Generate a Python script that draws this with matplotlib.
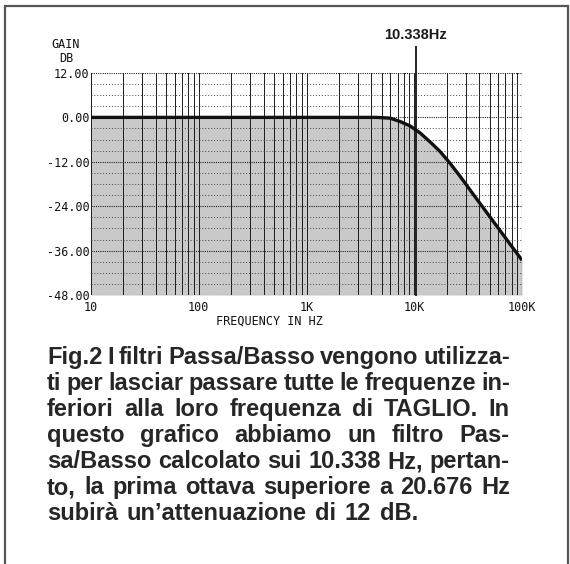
import matplotlib
matplotlib.use('Agg')
import matplotlib.pyplot as plt
from matplotlib.patches import Rectangle

# low-pass response
freq_hz = [10, 100, 1000, 4500, 5960, 7380, 9140, 11330, 14000, 17340,
           21480, 26600, 35100, 50470, 69500, 100000]
gain_db = [0.0, 0.0, 0.0, 0.0, -0.2, -1.1, -2.3, -4.2, -6.6, -9.2,
           -12.4, -15.9, -20.7, -26.9, -32.4, -38.6]

x_ticks = [10, 100, 1000, 10000, 100000]
x_tick_labels = ['10', '100', '1K', '10K', '100K']
y_ticks = [12, 0, -12, -24, -36, -48]
y_tick_labels = ['12.00', '0.00', '-12.00', '-24.00', '-36.00', '-48.00']

cutoff_hz = 10338
cutoff_label = '10.338Hz'

caption_lines = [
    'Fig.2 I filtri Passa/Basso vengono utilizza-',
    'ti per lasciar passare tutte le frequenze in-',
    'feriori alla loro frequenza di TAGLIO. In',
    'questo grafico abbiamo un filtro Pas-',
    'sa/Basso calcolato sui 10.338 Hz, pertan-',
    'to, la prima ottava superiore a 20.676 Hz',
    'subirà un\u2019attenuazione di 12 dB.',
]

W, H = 570, 564
MONO = 'DejaVu Sans Mono'


def fx(px):
    return px / W


def fy(py):
    return 1 - py / H


fig = plt.figure(figsize=(W / 100, H / 100), dpi=100)
fig.patch.set_facecolor('white')

# outer frame
fig.patches.append(Rectangle((fx(5), -0.05), fx(568) - fx(5), fy(6) + 0.05,
                             transform=fig.transFigure, fill=False,
                             edgecolor='#555555', lw=1.6))

ax = fig.add_axes([fx(91), fy(295), fx(522) - fx(91), fy(73) - fy(295)])
ax.set_xscale('log')
ax.set_xlim(10, 100000)
ax.set_ylim(-48, 12)
for s in ax.spines.values():
    s.set_visible(False)

ax.fill_between(freq_hz, gain_db, -48, color='#c9c9c9', lw=0, zorder=1)

# log grid, one line per minor step
for d in [10, 100, 1000, 10000]:
    for m in range(1, 10):
        ax.axvline(d * m, color='#1a1a1a', lw=0.7, zorder=2)
ax.axvline(100000, color='#1a1a1a', lw=0.8, zorder=2)

for y in range(-48, 13, 3):
    if y % 12 == 0:
        ax.axhline(y, color='#222222', lw=0.8, ls=(0, (1, 1)), zorder=2)
    else:
        ax.axhline(y, color='#444444', lw=0.7, ls=(0, (1, 2)), zorder=2)

ax.plot(freq_hz, gain_db, color='#111111', lw=2.4, zorder=4,
        solid_capstyle='butt', solid_joinstyle='round')

# cutoff marker
ax.plot([cutoff_hz, cutoff_hz], [-48, 19], color='#222222', lw=1.4,
        clip_on=False, zorder=3)
ax.text(cutoff_hz, 20.3, cutoff_label, ha='center', va='bottom',
        family='Liberation Sans', weight='bold', fontsize=10.5,
        color='#1a1a1a')

ax.set_xticks(x_ticks)
ax.set_xticklabels(x_tick_labels)
ax.set_xticks([], minor=True)
ax.set_yticks(y_ticks)
ax.set_yticklabels(y_tick_labels)
ax.tick_params(length=0, labelsize=8.5, colors='#111111')
ax.tick_params(axis='x', pad=4)
ax.tick_params(axis='y', pad=1)
for lab in ax.get_xticklabels() + ax.get_yticklabels():
    lab.set_family(MONO)

fig.text(fx(66), fy(44), 'GAIN', ha='center', va='center', family=MONO,
         fontsize=8.5, color='#111111')
fig.text(fx(66), fy(58), 'DB', ha='center', va='center', family=MONO,
         fontsize=8.5, color='#111111')
fig.text(fx(269), fy(321), 'FREQUENCY IN HZ', ha='center', va='center',
         family=MONO, fontsize=8.5, color='#111111')

# justified caption, words sit on a common baseline
cap_kw = dict(family='Liberation Sans', weight='bold', fontsize=17,
              color='#262626', va='baseline', ha='left')
renderer = fig.canvas.get_renderer()


def text_width(s):
    t = fig.text(0, 0, s, **cap_kw)
    w = t.get_window_extent(renderer).width
    t.remove()
    return w


space_w = text_width('a a') - text_width('aa')
left, right = 47, 510
baselines = [364, 390, 416, 442, 468, 494, 520]
for i, (line, yy) in enumerate(zip(caption_lines, baselines)):
    words = line.split(' ')
    texts = [fig.text(0, fy(yy), w, **cap_kw) for w in words]
    widths = [t.get_window_extent(renderer).width for t in texts]
    if i == len(caption_lines) - 1:
        gap = space_w * 1.3
    else:
        gap = (right - left - sum(widths)) / (len(words) - 1)
    x = left
    for t, w in zip(texts, widths):
        t.set_x(fx(x))
        x += w + gap

fig.savefig('out.png', dpi=100)
plt.close(fig)
